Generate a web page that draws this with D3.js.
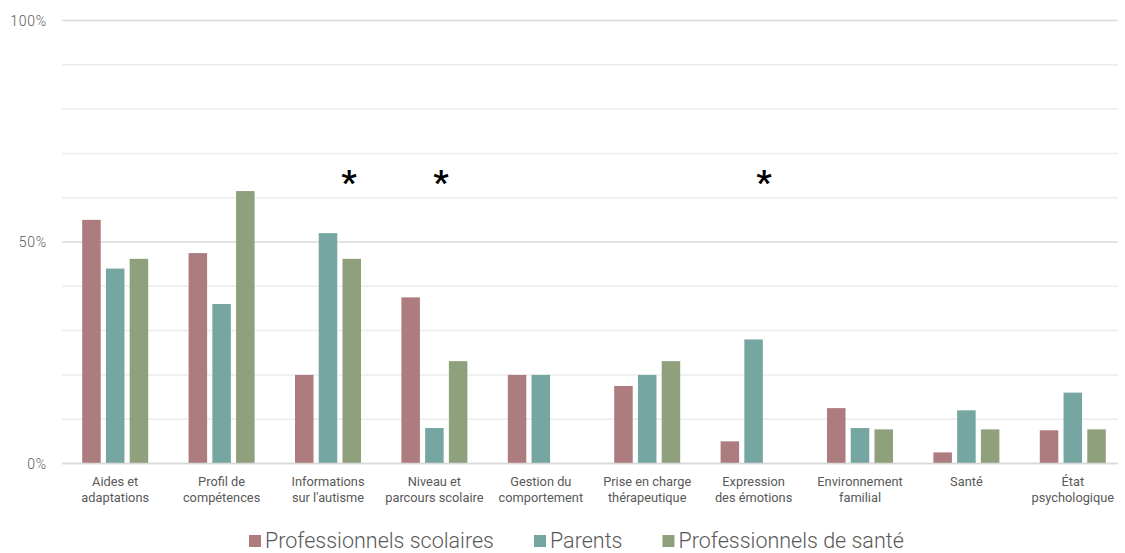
<!DOCTYPE html>
<html>
<head>
<meta charset="utf-8">
<script src="https://cdn.jsdelivr.net/npm/d3@7"></script>
<style>
  body { margin: 0; background: #fff; }
  text { font-family: Roboto, "Open Sans", sans-serif; }
</style>
</head>
<body>
<svg></svg>
<script>
// categories (two-line labels)
var categories = [
  ["Aides et", "adaptations"],
  ["Profil de", "compétences"],
  ["Informations", "sur l'autisme"],
  ["Niveau et", "parcours scolaire"],
  ["Gestion du", "comportement"],
  ["Prise en charge", "thérapeutique"],
  ["Expression", "des émotions"],
  ["Environnement", "familial"],
  ["Santé"],
  ["État", "psychologique"]
];
var seriesNames = ["Professionnels scolaires", "Parents", "Professionnels de santé"];
var scolaires = [55, 47.5, 20, 37.5, 20, 17.5, 5, 12.5, 2.5, 7.5];
var parents = [44, 36, 52, 8, 20, 20, 28, 8, 12, 16];
var sante = [46.2, 61.5, 46.2, 23.1, 0, 23.1, 0, 7.7, 7.7, 7.7];
var yTicks = [0, 50, 100];
var starCats = [2, 3, 6];

var colors = ["#ad7c7e", "#76a6a1", "#8fa07c"];
var series = [scolaires, parents, sante];

var svgWidth = 1125, svgHeight = 553;
var plotLeft = 62, plotRight = 1118, plotTop = 20.5, plotBottom = 463.5;

var svg = d3.select("svg")
    .attr("width", svgWidth)
    .attr("height", svgHeight);

var x = d3.scaleBand()
    .domain(d3.range(categories.length))
    .range([plotLeft, 1126]);

var xInner = d3.scaleBand()
    .domain(d3.range(series.length))
    .range([0, 66])
    .paddingInner(0.22);

var y = d3.scaleLinear()
    .domain([0, 100])
    .range([plotBottom, plotTop]);

// gridlines
svg.append("g").selectAll("line")
    .data(d3.range(0, 101, 10))
    .enter()
    .append("line")
    .attr("x1", plotLeft)
    .attr("x2", plotRight)
    .attr("y1", function(d) { return y(d); })
    .attr("y2", function(d) { return y(d); })
    .attr("stroke", function(d) { return d % 50 == 0 ? "#d9d9d9" : "#ececec"; })
    .attr("stroke-width", 1.5);

// y labels
svg.append("g").selectAll("text")
    .data(yTicks)
    .enter()
    .append("text")
    .attr("x", 47)
    .attr("y", function(d) { return y(d) + 5; })
    .attr("text-anchor", "end")
    .attr("font-size", 14)
    .attr("font-weight", 300)
    .attr("letter-spacing", 0.8)
    .attr("fill", "#595959")
    .text(function(d) { return d + "%"; });

// bars
var groupOffset = (x.bandwidth() - xInner.range()[1]) / 2;
series.forEach(function(vals, s) {
    svg.append("g").selectAll("rect")
        .data(vals)
        .enter()
        .append("rect")
        .attr("x", function(d, i) { return x(i) + groupOffset + xInner(s); })
        .attr("y", function(d) { return y(d); })
        .attr("width", xInner.bandwidth())
        .attr("height", function(d) { return plotBottom - y(d); })
        .attr("fill", colors[s]);
});

// baseline over the bars
svg.append("line")
    .attr("x1", plotLeft).attr("x2", plotRight)
    .attr("y1", y(0)).attr("y2", y(0))
    .attr("stroke", "#d9d9d9")
    .attr("stroke-width", 1.5);

// x labels
var xl = svg.append("g").selectAll("text")
    .data(categories)
    .enter()
    .append("text")
    .attr("text-anchor", "middle")
    .attr("font-size", 12.8)
    .attr("fill", "#595959");
xl.selectAll("tspan")
    .data(function(d, i) { return d.map(function(t) { return {t: t, i: i}; }); })
    .enter()
    .append("tspan")
    .attr("x", function(d) { return x(d.i) + x.bandwidth() / 2; })
    .attr("y", function(d, j) { return 486 + j * 15.5; })
    .text(function(d) { return d.t; });

// significance stars
var starDx = [21, 6.5, 10.5];
svg.append("g").selectAll("text")
    .data(starCats)
    .enter()
    .append("text")
    .attr("x", function(d, i) { return x(d) + x.bandwidth() / 2 + starDx[i]; })
    .attr("y", 194)
    .attr("text-anchor", "middle")
    .attr("font-size", 34)
    .attr("font-weight", "bold")
    .attr("fill", "#000")
    .text("*");

// legend
var legend = svg.append("g").attr("transform", "translate(249,0)");
var lx = 0;
seriesNames.forEach(function(name, i) {
    var g = legend.append("g").attr("transform", "translate(" + lx + ",0)");
    g.append("rect")
        .attr("x", 0).attr("y", 535)
        .attr("width", 12).attr("height", 12)
        .attr("fill", colors[i]);
    var t = g.append("text")
        .attr("x", 16).attr("y", 548)
        .attr("font-size", 21.5)
        .attr("font-weight", 300)
        .attr("fill", "#595959")
        .text(name);
    lx += 16 + t.node().getComputedTextLength() + 40;
});
</script>
</body>
</html>
